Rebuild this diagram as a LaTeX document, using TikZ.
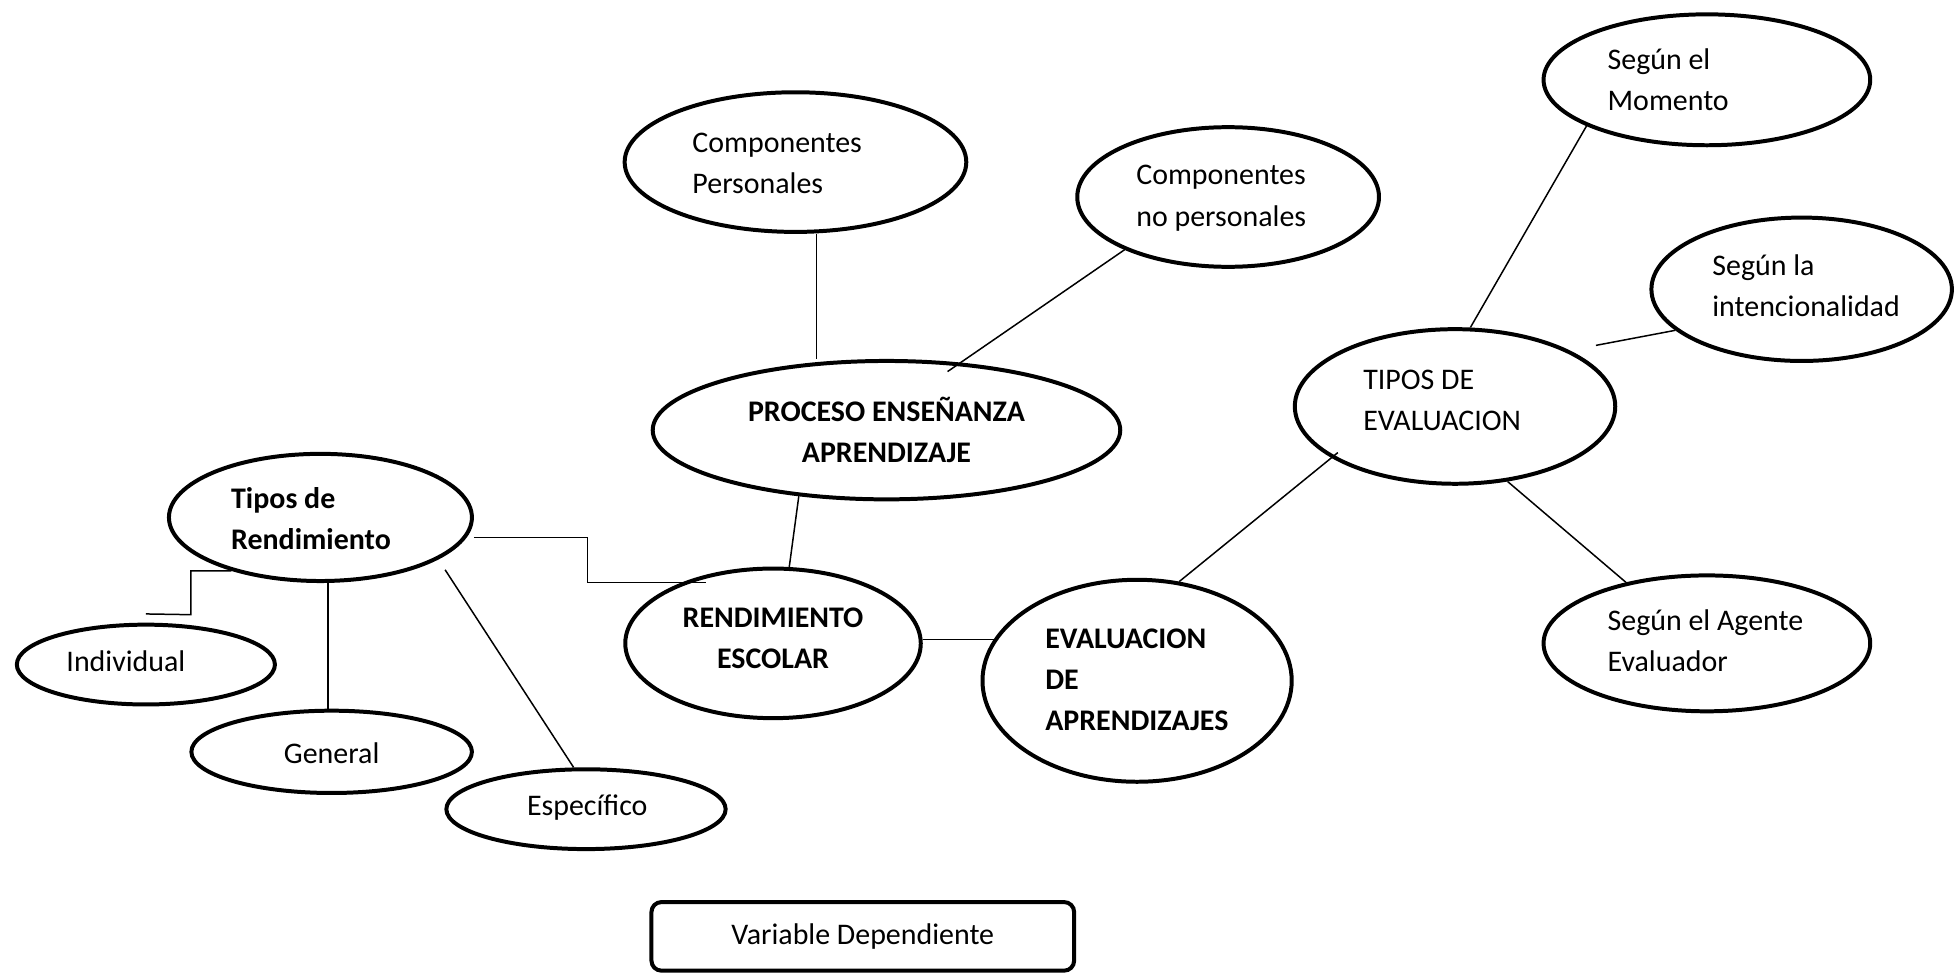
\documentclass[tikz,border=0pt]{standalone}
\usepackage{fontspec}
\setmainfont{Carlito}
\usetikzlibrary{shapes.geometric,calc}
\begin{document}
\begin{tikzpicture}[x=0.5pt,y=-0.5pt,
  ell/.style={draw, ellipse, line width=1.6pt, inner sep=0pt},
  lnk/.style={line width=0.6pt},
  txt/.style={inner sep=0pt, font=\fontsize{12}{16.5}\selectfont, align=left},
  btxt/.style={txt, font=\fontsize{12}{16.5}\selectfont\bfseries}]
\useasboundingbox (0,0) rectangle (1568,782);
% ellipses
\node[ell, minimum width=274*0.5pt, minimum height=112*0.5pt] (cp)  at (638,130) {};
\node[ell, minimum width=242*0.5pt, minimum height=112*0.5pt] (cnp) at (985,158) {};
\node[ell, minimum width=375*0.5pt, minimum height=111*0.5pt] (pea) at (711,345) {};
\node[ell, minimum width=243*0.5pt, minimum height=102*0.5pt] (tr)  at (257,415) {};
\node[ell, minimum width=207*0.5pt, minimum height=64*0.5pt]  (ind) at (117,533) {};
\node[ell, minimum width=225*0.5pt, minimum height=66*0.5pt]  (gen) at (266,603) {};
\node[ell, minimum width=224*0.5pt, minimum height=64*0.5pt]  (esp) at (470,649) {};
\node[ell, minimum width=237*0.5pt, minimum height=120*0.5pt] (re)  at (620,516) {};
\node[ell, minimum width=248*0.5pt, minimum height=162*0.5pt] (eda) at (912,546) {};
\node[ell, minimum width=257*0.5pt, minimum height=124*0.5pt] (te)  at (1167,326) {};
\node[ell, minimum width=262*0.5pt, minimum height=105*0.5pt] (mom) at (1369,64) {};
\node[ell, minimum width=241*0.5pt, minimum height=115*0.5pt] (int) at (1445,232) {};
\node[ell, minimum width=262*0.5pt, minimum height=109*0.5pt] (age) at (1369,516) {};
\node[draw, line width=1.6pt, rounded corners=4pt, minimum width=339*0.5pt, minimum height=55*0.5pt, inner sep=0pt,
      font=\fontsize{12}{16.5}\selectfont] (vd) at (692,751) {Variable Dependiente};
% texts
\node[txt, anchor=west] (t1) at (555,131) {Componentes\\Personales};
\node[txt, anchor=west] (t2) at (911,159) {Componentes\\no personales};
\node[btxt, align=center] (t3) at (711,345) {PROCESO ENSEÑANZA\\APRENDIZAJE};
\node[btxt, anchor=west] (t4) at (185,416) {Tipos de\\Rendimiento};
\node[txt] (t5) at (101,530) {Individual};
\node[txt] (t6) at (266,604) {General};
\node[txt] (t7) at (471,648) {Específico};
\node[btxt, align=center] (t8) at (620,512) {RENDIMIENTO\\ESCOLAR};
\node[btxt, anchor=west] (t9) at (838,545) {EVALUACION\\DE\\APRENDIZAJES};
\node[txt, anchor=west] (t10) at (1093,321) {TIPOS DE\\EVALUACION};
\node[txt, anchor=west] (t11) at (1289,64) {Según el\\Momento};
\node[txt, anchor=west] (t12) at (1373,229) {Según la\\intencionalidad};
\node[txt, anchor=west] (t13) at (1289,514) {Según el Agente\\Evaluador};
% connectors
\draw[lnk] (cp.south -| 655,0) -- (pea.north -| 655,0);
\draw[lnk] (cnp.207) -- ($(pea.center)+(49,-47)$);
\draw[lnk] (pea.217) -- (re.78);
\draw[lnk] (tr.east |- 0,431) -- (471,431) |- ($(re.center)+(-54,-49)$);
\draw[lnk] (tr.211) -| (153,493) -- ($(ind.north)+(0,-7)$);
\draw[lnk] (tr.south -| 263,0) -- (gen.north -| 263,0);
\draw[lnk] ($(tr.center)+(100,42)$) -- (esp.north -| 460,0);
\draw[lnk] (re.east |- eda.164) -- (eda.164);
\draw[lnk] (eda.67) -- ($(te.center)+(-94,37)$);
\draw[lnk] (te.79) -- (mom.201);
\draw[lnk] ($(te.center)+(113,-49)$) -- (int.198);
\draw[lnk] (te.-55) -- (age.143);
\end{tikzpicture}
\end{document}
